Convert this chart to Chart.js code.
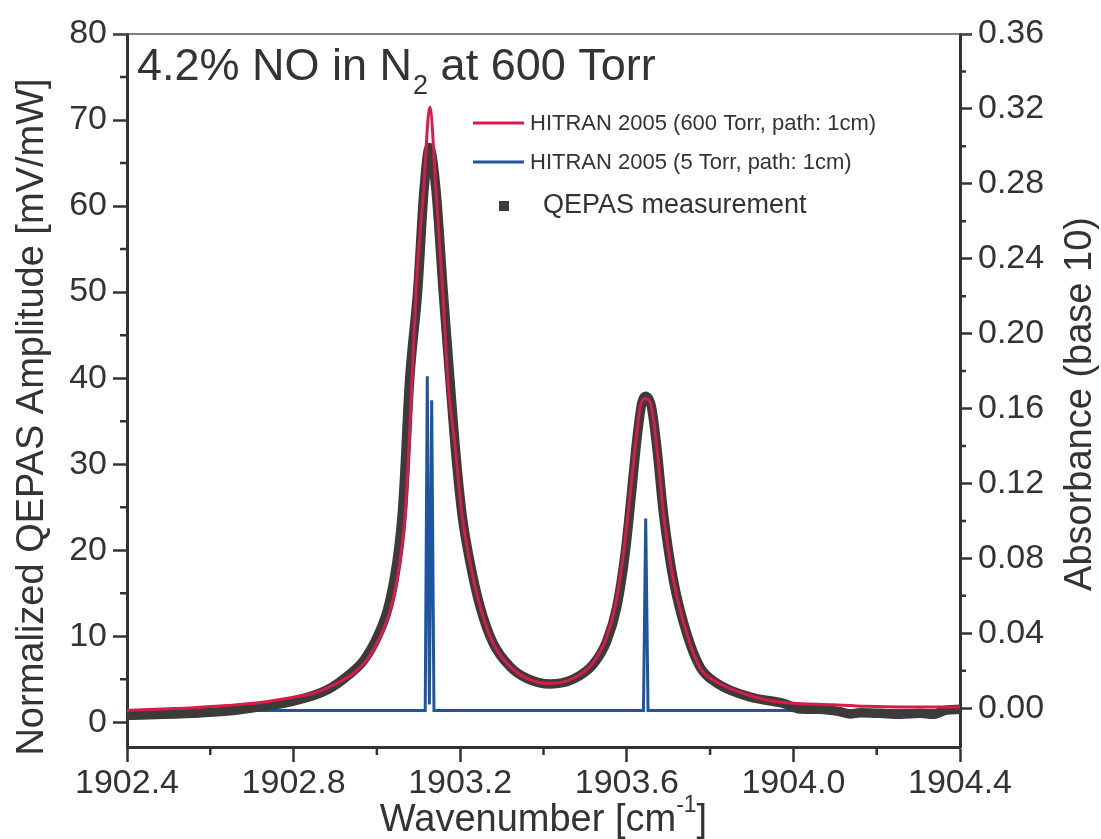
<!DOCTYPE html>
<html>
<head>
<meta charset="utf-8">
<title>NO spectrum at 600 Torr</title>
<script src="https://cdn.jsdelivr.net/npm/chart.js@4.4.1/dist/chart.umd.min.js"></script>
<style>
  html, body { margin: 0; padding: 0; background: #fff; }
  #wrap { width: 1101px; height: 839px; }
</style>
</head>
<body>
<div id="wrap"><canvas id="spectrum" width="1101" height="839"></canvas></div>
<script>
// QEPAS measurement, wavenumber [cm-1] vs normalized amplitude [mV/mW]
const qepasWn = [1902.400, 1902.560, 1902.640, 1902.719, 1902.800, 1902.880, 1902.937, 1902.969,
    1903.001, 1903.025, 1903.041, 1903.053, 1903.061, 1903.066, 1903.078, 1903.098, 1903.113,
    1903.126, 1903.142, 1903.159, 1903.176, 1903.188, 1903.204, 1903.224, 1903.248, 1903.279,
    1903.320, 1903.360, 1903.416, 1903.472, 1903.520, 1903.552, 1903.576, 1903.596, 1903.612,
    1903.624, 1903.636, 1903.645, 1903.659, 1903.672, 1903.688, 1903.712, 1903.744, 1903.776,
    1903.816, 1903.896, 1903.976, 1904.016, 1904.064, 1904.112, 1904.136, 1904.160, 1904.208,
    1904.256, 1904.304, 1904.335, 1904.368, 1904.400]
const qepasAmp = [0.80, 1.05, 1.30, 1.81, 2.47, 3.75, 5.69, 7.24,
    9.94, 13.0, 16.5, 20.4, 24.3, 28.1, 39.4, 50.2, 61.8,
    66.8, 61.8, 50.2, 39.4, 32.0, 24.3, 18.5, 13.4, 9.2,
    6.46, 5.11, 4.45, 5.03, 6.77, 9.44, 13.4, 19.6, 27.0,
    32.8, 37.1, 37.9, 36.7, 32.0, 24.3, 16.5, 10.3, 6.42,
    4.56, 2.94, 2.21, 1.55, 1.52, 1.23, 0.96, 1.12, 1.04,
    0.93, 1.04, 0.93, 1.43, 1.51]

// HITRAN 2005, 600 Torr, 1 cm path: absorbance (base 10)
const hitran600Wn = [1902.400, 1902.560, 1902.640, 1902.719, 1902.800, 1902.848, 1902.896, 1902.944,
    1902.976, 1903.008, 1903.032, 1903.048, 1903.060, 1903.068, 1903.074, 1903.084, 1903.094,
    1903.112, 1903.127, 1903.142, 1903.158, 1903.171, 1903.188, 1903.204, 1903.224, 1903.248,
    1903.279, 1903.320, 1903.360, 1903.416, 1903.472, 1903.518, 1903.549, 1903.572, 1903.592,
    1903.609, 1903.622, 1903.634, 1903.645, 1903.659, 1903.672, 1903.688, 1903.712, 1903.744,
    1903.776, 1903.816, 1903.896, 1903.936, 1903.976, 1904.096, 1904.176, 1904.256, 1904.400]
const hitran600Abs = [-0.0012, 0.0003, 0.0014, 0.0030, 0.0059, 0.0080, 0.0124, 0.0187,
    0.0258, 0.0382, 0.0524, 0.0684, 0.0862, 0.1040, 0.1260, 0.1733, 0.2231,
    0.2764, 0.3209, 0.2764, 0.2231, 0.1733, 0.1395, 0.1040, 0.0773, 0.0542,
    0.0347, 0.0222, 0.0160, 0.0132, 0.0160, 0.0240, 0.0364, 0.0542, 0.0827,
    0.1164, 0.1431, 0.1627, 0.1653, 0.1608, 0.1395, 0.1040, 0.0684, 0.0400,
    0.0215, 0.0140, 0.0068, 0.0044, 0.0031, 0.0018, 0.0010, 0.0007, 0.0007]

// HITRAN 2005, 5 Torr, 1 cm path: absorbance (base 10)
const hitran5Wn = [1902.400, 1903.116, 1903.121, 1903.126, 1903.1316, 1903.137,
    1903.640, 1903.6454, 1903.651, 1904.400]
const hitran5Abs = [-0.0012, -0.0012, 0.1772, 0.002, 0.1644, -0.0012,
    -0.0012, 0.1013, -0.0012, -0.0012]

// axis ticks
const wnTicks = [1902.4, 1902.8, 1903.2, 1903.6, 1904.0, 1904.4]
const ampTicks = [0, 10, 20, 30, 40, 50, 60, 70, 80]
const absTicks = [0, 0.04, 0.08, 0.12, 0.16, 0.20, 0.24, 0.28, 0.32, 0.36]

const FONT = '"Liberation Sans", Arial, Helvetica, sans-serif'
const INK = '#333333'
const RED = '#db1a48'
const BLUE = '#1d55a0'
const GRAY = '#3b3b3b'

const toPoints = (xs, ys) => xs.map((x, i) => ({ x: x, y: ys[i] }))
const setTicks = values => axis => { axis.ticks = values.map(v => ({ value: v })) }
const midpoints = values => values.slice(1).map((v, i) => (v + values[i]) / 2)

// short ticks half way between the labelled ones
const minorTicks = {
    id: 'minorTicks',
    afterDraw(chart) {
        const { ctx, scales } = chart
        ctx.save()
        ctx.strokeStyle = INK
        ctx.lineWidth = 2.5
        ctx.beginPath()
        midpoints(wnTicks).forEach(v => {
            const px = scales.x.getPixelForValue(v)
            ctx.moveTo(px, scales.x.top); ctx.lineTo(px, scales.x.top + 8)
        })
        midpoints(ampTicks).forEach(v => {
            const py = scales.y.getPixelForValue(v)
            ctx.moveTo(scales.y.right, py); ctx.lineTo(scales.y.right - 7, py)
        })
        midpoints(absTicks).forEach(v => {
            const py = scales.y1.getPixelForValue(v)
            ctx.moveTo(scales.y1.left, py); ctx.lineTo(scales.y1.left + 6, py)
        })
        ctx.stroke()
        ctx.restore()
    }
}

// frame top, axis titles, panel title and legend
const annotations = {
    id: 'annotations',
    afterDraw(chart) {
        const { ctx, chartArea: a } = chart
        ctx.save()
        ctx.strokeStyle = '#555'
        ctx.lineWidth = 1.5
        ctx.beginPath()
        ctx.moveTo(a.left - 14, a.top); ctx.lineTo(a.right + 12, a.top)
        ctx.stroke()

        ctx.fillStyle = INK
        ctx.textBaseline = 'alphabetic'

        // panel title with subscript
        let x = a.left + 10, y = a.top + 46
        ctx.textAlign = 'left'
        ctx.font = '45px ' + FONT
        ctx.fillText('4.2% NO in N', x, y)
        x += ctx.measureText('4.2% NO in N').width
        ctx.font = '27px ' + FONT
        ctx.fillText('2', x + 1, y + 14)
        x += ctx.measureText('2').width + 1
        ctx.font = '45px ' + FONT
        ctx.fillText(' at 600 Torr', x, y)

        // x axis title with superscript
        const mainPart = 'Wavenumber [cm', sup = '-1', tail = ']'
        ctx.font = '38px ' + FONT
        const wMain = ctx.measureText(mainPart).width, wTail = ctx.measureText(tail).width
        ctx.font = '23px ' + FONT
        const wSup = ctx.measureText(sup).width
        x = (a.left + a.right) / 2 - (wMain + wSup + wTail) / 2
        y = 831
        ctx.font = '38px ' + FONT
        ctx.fillText(mainPart, x, y)
        ctx.font = '23px ' + FONT
        ctx.fillText(sup, x + wMain, y - 19)
        ctx.font = '38px ' + FONT
        ctx.fillText(tail, x + wMain + wSup, y)

        // y axis titles, rotated
        ctx.textAlign = 'center'
        ctx.font = '38px ' + FONT
        ctx.save()
        ctx.translate(43, 417)
        ctx.rotate(-Math.PI / 2)
        ctx.fillText('Normalized QEPAS Amplitude [mV/mW]', 0, 0)
        ctx.restore()
        ctx.save()
        ctx.translate(1091, 404)
        ctx.rotate(-Math.PI / 2)
        ctx.fillText('Absorbance (base 10)', 0, 0)
        ctx.restore()

        // legend
        ctx.textAlign = 'left'
        ctx.textBaseline = 'middle'
        ctx.lineWidth = 3
        ctx.strokeStyle = RED
        ctx.beginPath(); ctx.moveTo(473, 123); ctx.lineTo(524, 123); ctx.stroke()
        ctx.strokeStyle = BLUE
        ctx.beginPath(); ctx.moveTo(473, 162); ctx.lineTo(524, 162); ctx.stroke()
        ctx.fillStyle = GRAY
        ctx.fillRect(499, 201, 10, 10)
        ctx.fillStyle = INK
        ctx.font = '22px ' + FONT
        ctx.fillText('HITRAN 2005 (600 Torr, path: 1cm)', 530, 124)
        ctx.fillText('HITRAN 2005 (5 Torr, path: 1cm)', 530, 163)
        ctx.font = '27px ' + FONT
        ctx.fillText('QEPAS measurement', 543, 206)
        ctx.restore()
    }
}

const axisLook = (tickLength) => ({
    drawOnChartArea: false,
    drawTicks: true,
    tickLength: tickLength,
    tickWidth: 2.5,
    tickColor: INK
})
const axisBorder = { display: true, width: 3, color: INK }
const tickFont = { family: FONT, size: 34 }

new Chart(document.getElementById('spectrum'), {
    type: 'line',
    data: {
        datasets: [
            {
                label: 'HITRAN 2005 (600 Torr, path: 1cm)',
                data: toPoints(hitran600Wn, hitran600Abs),
                yAxisID: 'y1',
                borderColor: RED,
                borderWidth: 3,
                cubicInterpolationMode: 'monotone',
                pointRadius: 0,
                order: 0
            },
            {
                label: 'QEPAS measurement',
                data: toPoints(qepasWn, qepasAmp),
                yAxisID: 'y',
                borderColor: GRAY,
                borderWidth: 9.5,
                borderJoinStyle: 'round',
                borderCapStyle: 'butt',
                cubicInterpolationMode: 'monotone',
                pointRadius: 0,
                clip: 0,
                order: 1
            },
            {
                label: 'HITRAN 2005 (5 Torr, path: 1cm)',
                data: toPoints(hitran5Wn, hitran5Abs),
                yAxisID: 'y1',
                borderColor: BLUE,
                borderWidth: 3,
                tension: 0,
                pointRadius: 0,
                order: 2
            }
        ]
    },
    options: {
        responsive: false,
        devicePixelRatio: 1,
        animation: false,
        layout: { padding: { top: 34, left: 0, right: 0, bottom: 0 } },
        plugins: {
            legend: { display: false },
            tooltip: { enabled: false }
        },
        scales: {
            x: {
                type: 'linear',
                position: 'bottom',
                min: 1902.4,
                max: 1904.4,
                afterBuildTicks: setTicks(wnTicks),
                afterFit: s => { s.height = 92 },
                grid: axisLook(15),
                border: axisBorder,
                ticks: { font: tickFont, color: INK, padding: 1, maxRotation: 0,
                    callback: v => v.toFixed(1) }
            },
            y: {
                position: 'left',
                min: -2.87,
                max: 80,
                afterBuildTicks: setTicks(ampTicks),
                afterFit: s => { s.width = 127 },
                grid: axisLook(14),
                border: axisBorder,
                ticks: { font: tickFont, color: INK, padding: 6 }
            },
            y1: {
                position: 'right',
                min: -0.0207,
                max: 0.36,
                afterBuildTicks: setTicks(absTicks),
                afterFit: s => { s.width = 141 },
                grid: axisLook(12),
                border: axisBorder,
                ticks: { font: tickFont, color: INK, padding: 6,
                    callback: v => v.toFixed(2) }
            }
        }
    },
    plugins: [minorTicks, annotations]
})
</script>
</body>
</html>
